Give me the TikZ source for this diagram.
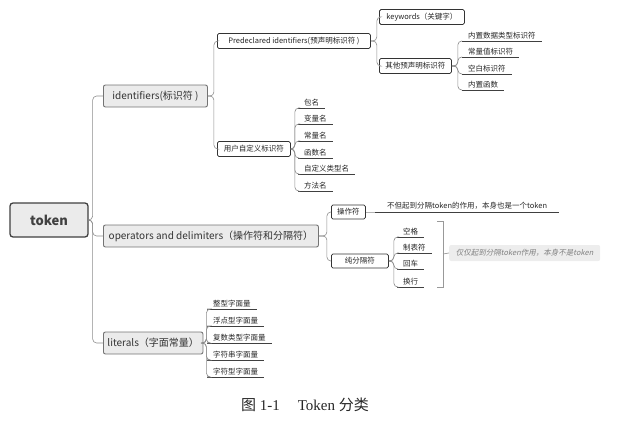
\documentclass[tikz,border=0pt]{standalone}
\usepackage{fontspec}
\setmainfont{Liberation Serif}
\newfontfamily\cjk{Noto Sans CJK SC}
\newfontfamily\cjkslant[FakeSlant=0.2]{Noto Sans CJK SC}
\usetikzlibrary{positioning}

\tikzset{
  root/.style={draw=black!75,line width=1.3pt,fill=black!8,rounded corners=3pt,
    font=\cjk\bfseries\fontsize{13}{15}\selectfont,text=black!75,
    minimum width=78pt,minimum height=34pt},
  topic/.style={draw=black!55,line width=0.9pt,fill=black!8,rounded corners=2pt,
    anchor=west,font=\cjk\fontsize{10}{12}\selectfont,text=black!80,
    minimum height=22pt,inner xsep=4pt},
  subtopic/.style={draw=black!80,line width=0.8pt,fill=white,rounded corners=1.5pt,
    anchor=west,font=\cjk\fontsize{7.5}{9}\selectfont,text=black!85,
    minimum height=15pt,inner xsep=4pt},
  uline/.style={draw=black!75,line width=0.9pt},
  leaf/.style={anchor=south west,inner xsep=6pt,inner ysep=2pt,
    font=\cjk\fontsize{7.5}{9}\selectfont,text=black!85,
    append after command={(\tikzlastnode.south west) edge[uline] (\tikzlastnode.south east)}},
  link/.style={draw=black!45,line width=0.6pt,rounded corners=4pt},
}

\begin{document}
\begin{tikzpicture}[x=1pt,y=-1pt]
\useasboundingbox (0,0) rectangle (618,428);
%% root and main topics
\node[root] (t) at (49,220) {token};
\node[topic,minimum width=104pt] (id) at (103,96) {identifiers(标识符 )};
\node[topic,minimum width=215pt] (op) at (103,236) {operators and delimiters（操作符和分隔符）};
\node[topic,minimum width=98pt] (lit) at (103,343) {literals（字面常量）};
\foreach \c in {id,op,lit}
  \draw[link] (t.east) -- ++(4,0) |- (\c.west);
%% identifiers
\node[subtopic,minimum width=153pt] (pre) at (217,41) {Predeclared identifiers(预声明标识符 )};
\node[subtopic,minimum width=73pt] (usr) at (217,149) {用户自定义标识符};
\foreach \c in {pre,usr}
  \draw[link] (id.east) -- ++(6,0) |- (\c.west);
\node[subtopic,minimum width=85pt,minimum height=14pt] (kw) at (379,17) {keywords（关键字）};
\node[subtopic,minimum width=72pt] (oth) at (379,66) {其他预声明标识符};
\foreach \c in {kw,oth}
  \draw[link] (pre.east) -- ++(6,0) |- (\c.west);
\foreach \n/\y/\txt in {a/41/内置数据类型标识符,b/57/常量值标识符,c/74/空白标识符,d/90/内置函数} {
  \node[leaf] (o\n) at (462,\y) {\txt};
  \draw[link] (oth.east) -- ++(6,0) |- (o\n.south west);
}
\foreach \n/\y/\txt in {a/108/包名,b/124/变量名,c/141/常量名,d/158/函数名,e/174/自定义类型名,f/191/方法名} {
  \node[leaf] (u\n) at (298,\y) {\txt};
  \draw[link] (usr.east) -- ++(4,0) |- (u\n.south west);
}
%% operators and delimiters
\node[subtopic,minimum width=34pt,minimum height=14pt] (opr) at (331,212) {操作符};
\node[subtopic,minimum width=57pt,minimum height=14pt] (sep) at (331,261) {纯分隔符};
\foreach \c in {opr,sep}
  \draw[link] (op.east) -- ++(8,0) |- (\c.west);
\node[leaf,minimum width=184pt] (note) at (375,212) {不但起到分隔token的作用，本身也是一个token};
\draw[link,draw=black!30] (opr.east) -- (note.south west);
\foreach \n/\y/\txt in {a/237/空格,b/253/制表符,c/269/回车,d/287/换行} {
  \node[leaf] (s\n) at (397,\y) {\txt};
  \draw[link] (sep.east) -- ++(5,0) |- (s\n.south west);
}
%% summary
\coordinate (br) at (443,254);
\draw[draw=black!40,line width=0.7pt] (437,221) -- (443,221) -- (443,287) -- (437,287);
\node[anchor=west,fill=black!7,rounded corners=2pt,minimum width=151pt,minimum height=16pt,
  font=\cjkslant\fontsize{7.5}{9}\selectfont,text=black!50] (sum) at (449,253)
  {仅仅起到分隔token作用，本身不是token};
\draw[draw=black!40,line width=0.7pt] (br) -- (sum.west);
%% literals
\foreach \n/\y/\txt in {a/309/整型字面量,b/326/浮点型字面量,c/343/复数类型字面量,d/360/字符串字面量,e/377/字符型字面量} {
  \node[leaf] (l\n) at (207,\y) {\txt};
  \draw[link] (lit.east) -- ++(3,0) |- (l\n.south west);
}
%% caption
\node[font=\fontsize{15}{18}\selectfont,text=black!85] (cap) at (305,405)
  {{\cjk 图} 1-1\hspace{1.2em}Token {\cjk 分类}};
\end{tikzpicture}
\end{document}
